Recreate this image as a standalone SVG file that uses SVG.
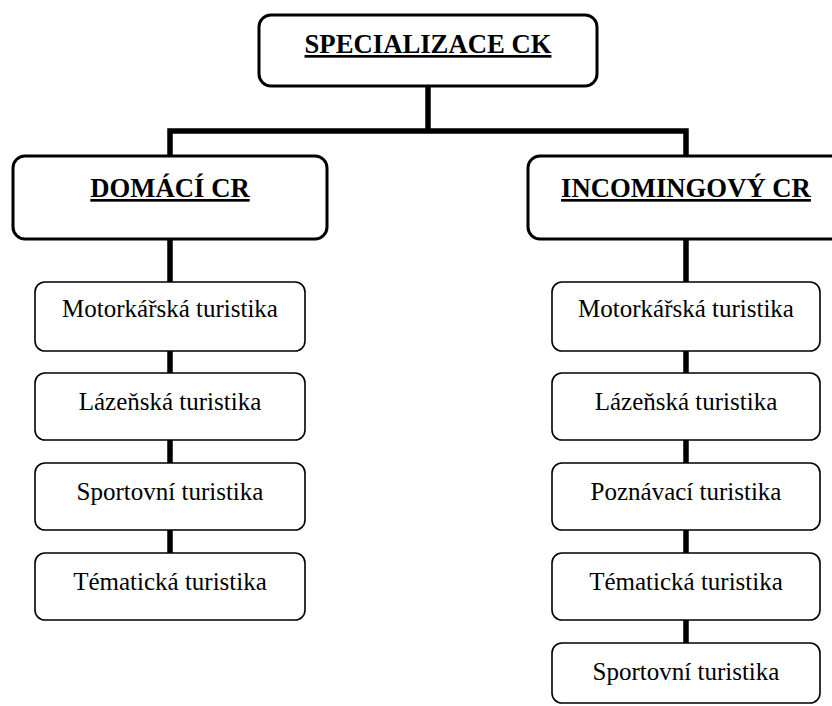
<svg xmlns="http://www.w3.org/2000/svg" width="832" height="706" viewBox="0 0 832 706">
<style>
.big{fill:#fff;stroke:#000;stroke-width:3}
.box{fill:#fff;stroke:#000;stroke-width:1.6}
.h{font-family:"Liberation Serif","Times New Roman",serif;font-weight:bold;font-size:26.7px;text-anchor:middle;text-decoration:underline}
.t{font-family:"Liberation Serif","Times New Roman",serif;font-size:25px;text-anchor:middle}
.c{fill:none;stroke:#000;stroke-width:5.5}
</style>
<rect width="832" height="706" fill="#fff"/>
<g id="connectors">
<path class="c" d="M428,86 V131"/>
<path class="c" d="M170,156 V131 H686 V156"/>
<path class="c" d="M170,239 V282 M170,351 V373 M170,440 V463 M170,530 V553"/>
<path class="c" d="M686,239 V282 M686,351 V373 M686,440 V463 M686,530 V553 M686,620 V643"/>
</g>
<g id="specializace"><rect class="big" x="259" y="15" width="338" height="71" rx="12"/><text class="h" x="428" y="53">SPECIALIZACE CK</text></g>
<g id="domaci"><rect class="big" x="13" y="156" width="314" height="83" rx="12"/><text class="h" x="170" y="197">DOMÁCÍ CR</text></g>
<g id="incoming"><rect class="big" x="528" y="156" width="316" height="83" rx="12"/><text class="h" x="686" y="197">INCOMINGOVÝ CR</text></g>
<g id="l1"><rect class="box" x="35" y="282" width="270" height="69" rx="10"/><text class="t" x="170" y="317">Motorkářská turistika</text></g>
<g id="l2"><rect class="box" x="35" y="373" width="270" height="67" rx="10"/><text class="t" x="170" y="410">Lázeňská turistika</text></g>
<g id="l3"><rect class="box" x="35" y="463" width="270" height="67" rx="10"/><text class="t" x="170" y="500">Sportovní turistika</text></g>
<g id="l4"><rect class="box" x="35" y="553" width="270" height="67" rx="10"/><text class="t" x="170" y="590">Tématická turistika</text></g>
<g id="r1"><rect class="box" x="552" y="282" width="268" height="69" rx="10"/><text class="t" x="686" y="317">Motorkářská turistika</text></g>
<g id="r2"><rect class="box" x="552" y="373" width="268" height="67" rx="10"/><text class="t" x="686" y="410">Lázeňská turistika</text></g>
<g id="r3"><rect class="box" x="552" y="463" width="268" height="67" rx="10"/><text class="t" x="686" y="500">Poznávací turistika</text></g>
<g id="r4"><rect class="box" x="552" y="553" width="268" height="67" rx="10"/><text class="t" x="686" y="590">Tématická turistika</text></g>
<g id="r5"><rect class="box" x="552" y="643" width="268" height="60" rx="10"/><text class="t" x="686" y="680">Sportovní turistika</text></g>
</svg>
